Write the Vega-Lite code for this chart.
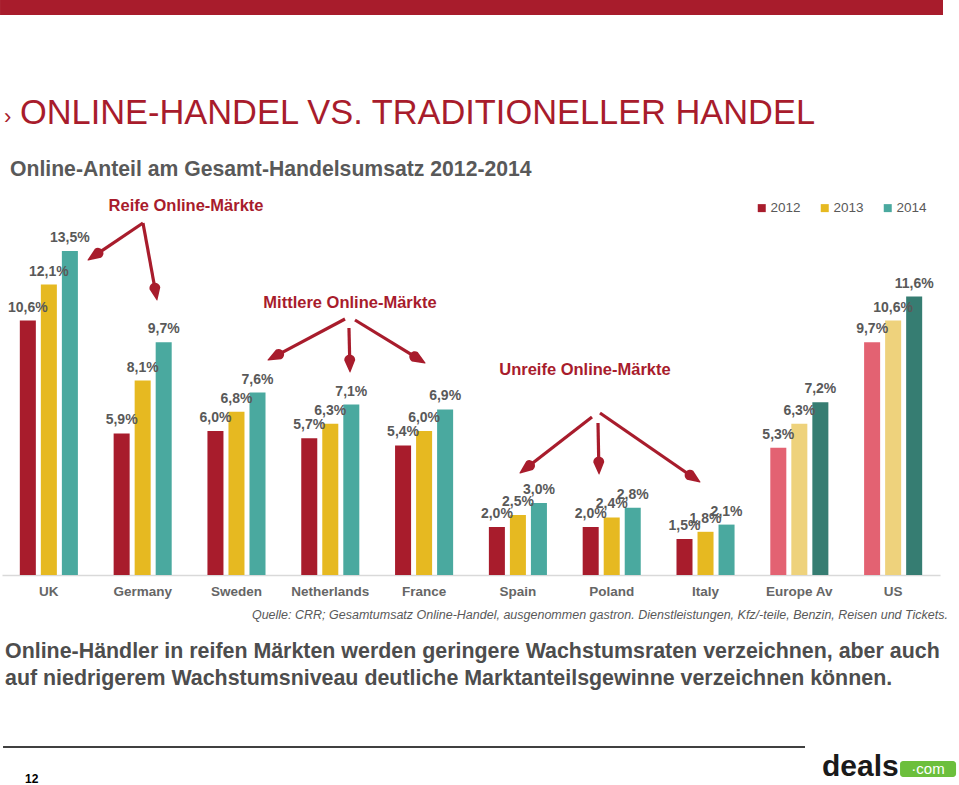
{
  "$schema": "https://vega.github.io/schema/vega-lite/v6.json",
  "width": 938,
  "height": 575,
  "autosize": {"type": "none"},
  "padding": {"left": 2, "top": 0, "right": 19, "bottom": 210},
  "background": "white",
  "config": {
    "font": "Liberation Sans",
    "view": {"stroke": null},
    "locale": {"number": {"decimal": ",", "thousands": ".", "grouping": [3], "currency": ["", " €"]}}
  },
  "layer": [
    {
      "data": {"values": [
        {"country": "UK", "year": "2012", "shade": "2012", "share": 0.106},
        {"country": "UK", "year": "2013", "shade": "2013", "share": 0.121},
        {"country": "UK", "year": "2014", "shade": "2014", "share": 0.135},
        {"country": "Germany", "year": "2012", "shade": "2012", "share": 0.059},
        {"country": "Germany", "year": "2013", "shade": "2013", "share": 0.081},
        {"country": "Germany", "year": "2014", "shade": "2014", "share": 0.097},
        {"country": "Sweden", "year": "2012", "shade": "2012", "share": 0.060},
        {"country": "Sweden", "year": "2013", "shade": "2013", "share": 0.068},
        {"country": "Sweden", "year": "2014", "shade": "2014", "share": 0.076},
        {"country": "Netherlands", "year": "2012", "shade": "2012", "share": 0.057},
        {"country": "Netherlands", "year": "2013", "shade": "2013", "share": 0.063},
        {"country": "Netherlands", "year": "2014", "shade": "2014", "share": 0.071},
        {"country": "France", "year": "2012", "shade": "2012", "share": 0.054},
        {"country": "France", "year": "2013", "shade": "2013", "share": 0.060},
        {"country": "France", "year": "2014", "shade": "2014", "share": 0.069},
        {"country": "Spain", "year": "2012", "shade": "2012", "share": 0.020},
        {"country": "Spain", "year": "2013", "shade": "2013", "share": 0.025},
        {"country": "Spain", "year": "2014", "shade": "2014", "share": 0.030},
        {"country": "Poland", "year": "2012", "shade": "2012", "share": 0.020},
        {"country": "Poland", "year": "2013", "shade": "2013", "share": 0.024},
        {"country": "Poland", "year": "2014", "shade": "2014", "share": 0.028},
        {"country": "Italy", "year": "2012", "shade": "2012", "share": 0.015},
        {"country": "Italy", "year": "2013", "shade": "2013", "share": 0.018},
        {"country": "Italy", "year": "2014", "shade": "2014", "share": 0.021},
        {"country": "Europe Av", "year": "2012", "shade": "2012b", "share": 0.053},
        {"country": "Europe Av", "year": "2013", "shade": "2013b", "share": 0.063},
        {"country": "Europe Av", "year": "2014", "shade": "2014b", "share": 0.072},
        {"country": "US", "year": "2012", "shade": "2012b", "share": 0.097},
        {"country": "US", "year": "2013", "shade": "2013b", "share": 0.106},
        {"country": "US", "year": "2014", "shade": "2014b", "share": 0.116}
      ]},
      "encoding": {
        "x": {
          "field": "country", "type": "nominal", "sort": null,
          "scale": {"paddingInner": 0.381, "paddingOuter": 0.19},
          "axis": {"title": null, "ticks": false, "domainColor": "#d9d9d9", "domainWidth": 1.5, "labelAngle": 0, "labelFontSize": 13.5, "labelFontWeight": "bold", "labelColor": "#666666", "labelPadding": 9}
        },
        "xOffset": {"field": "year", "type": "nominal", "scale": {"paddingInner": 0.238, "paddingOuter": 0}},
        "y": {"field": "share", "type": "quantitative", "scale": {"domain": [0, 0.2395833], "nice": false, "zero": true}, "axis": null}
      },
      "layer": [
        {
          "mark": {"type": "bar"},
          "encoding": {
            "color": {
              "field": "shade", "type": "nominal",
              "scale": {"domain": ["2012", "2013", "2014", "2012b", "2013b", "2014b"], "range": ["#a81c2c", "#e6b921", "#4aa99f", "#e36272", "#eed27c", "#367d72"]},
              "legend": {"orient": "none", "legendX": 753, "legendY": 201, "direction": "horizontal", "title": null, "values": ["2012", "2013", "2014"], "symbolType": "square", "symbolSize": 64, "symbolStrokeWidth": 0, "labelFontSize": 13.5, "labelColor": "#595959", "columnPadding": 17, "labelOffset": 2}
            }
          }
        },
        {
          "mark": {"type": "text", "baseline": "alphabetic", "dy": -9, "fontSize": 14, "fontWeight": "bold", "color": "#595959"},
          "encoding": {"text": {"field": "share", "type": "quantitative", "format": ".1%"}}
        }
      ]
    },
    {
      "encoding": {
        "x": {"field": "x", "type": "quantitative", "scale": {"domain": [0, 10], "nice": false, "zero": false}, "axis": null},
        "y": {"field": "y", "type": "quantitative", "scale": {"domain": [0, 0.2395833], "nice": false, "zero": true}, "axis": null}
      },
      "layer": [
        {
          "data": {"values": [{"x": -0.021, "x2": 10.032, "y": 0.23958, "y2": 0.23333}]},
          "mark": {"type": "rect", "color": "#a81c2c"},
          "encoding": {"x2": {"field": "x2"}, "y2": {"field": "y2"}}
        },
        {
          "data": {"values": [{"x": 0.192, "y": 0.1879, "t": "ONLINE-HANDEL VS. TRADITIONELLER HANDEL"}]},
          "mark": {"type": "text", "align": "left", "baseline": "alphabetic", "fontSize": 34.4, "color": "#a81c2c"},
          "encoding": {"text": {"field": "t"}}
        },
        {
          "data": {"values": [{"x": 0.021, "y": 0.1879, "t": "›"}]},
          "mark": {"type": "text", "align": "left", "baseline": "alphabetic", "fontSize": 22, "color": "#a81c2c"},
          "encoding": {"text": {"field": "t"}}
        },
        {
          "data": {"values": [{"x": 0.085, "y": 0.16625, "t": "Online-Anteil am Gesamt-Handelsumsatz 2012-2014"}]},
          "mark": {"type": "text", "align": "left", "baseline": "alphabetic", "fontSize": 21.2, "fontWeight": "bold", "color": "#595959"},
          "encoding": {"text": {"field": "t"}}
        },
        {
          "data": {"values": [
            {"x": 1.962, "y": 0.15146, "t": "Reife Online-Märkte"},
            {"x": 3.710, "y": 0.11125, "t": "Mittlere Online-Märkte"},
            {"x": 6.215, "y": 0.08333, "t": "Unreife Online-Märkte"}
          ]},
          "mark": {"type": "text", "align": "center", "baseline": "alphabetic", "fontSize": 16.5, "fontWeight": "bold", "color": "#a81c2c"},
          "encoding": {"text": {"field": "t"}}
        },
        {
          "data": {"values": [
            {"x": 1.503, "y": 0.14667, "x2": 1.023, "y2": 0.13404},
            {"x": 1.503, "y": 0.14667, "x2": 1.630, "y2": 0.11950},
            {"x": 3.657, "y": 0.10667, "x2": 2.949, "y2": 0.09192},
            {"x": 3.699, "y": 0.10292, "x2": 3.707, "y2": 0.08958},
            {"x": 3.763, "y": 0.10625, "x2": 4.401, "y2": 0.09096},
            {"x": 6.290, "y": 0.06583, "x2": 5.624, "y2": 0.04558},
            {"x": 6.354, "y": 0.06333, "x2": 6.362, "y2": 0.04708},
            {"x": 6.375, "y": 0.06750, "x2": 7.336, "y2": 0.04158}
          ]},
          "mark": {"type": "rule", "color": "#a81c2c", "strokeWidth": 3.2},
          "encoding": {"x2": {"field": "x2"}, "y2": {"field": "y2"}}
        },
        {
          "data": {"values": [
            {"arrow": "A1", "x": 1.023, "y": 0.13404, "head": 1},
            {"arrow": "A1", "x": 0.917, "y": 0.13125, "head": 0},
            {"arrow": "A2", "x": 1.630, "y": 0.11950, "head": 1},
            {"arrow": "A2", "x": 1.652, "y": 0.11458, "head": 0},
            {"arrow": "B1", "x": 2.949, "y": 0.09192, "head": 1},
            {"arrow": "B1", "x": 2.836, "y": 0.08958, "head": 0},
            {"arrow": "B2", "x": 3.707, "y": 0.08958, "head": 1},
            {"arrow": "B2", "x": 3.710, "y": 0.08458, "head": 0},
            {"arrow": "B3", "x": 4.401, "y": 0.09096, "head": 1},
            {"arrow": "B3", "x": 4.510, "y": 0.08833, "head": 0},
            {"arrow": "C1", "x": 5.624, "y": 0.04558, "head": 1},
            {"arrow": "C1", "x": 5.522, "y": 0.04250, "head": 0},
            {"arrow": "C2", "x": 6.362, "y": 0.04708, "head": 1},
            {"arrow": "C2", "x": 6.365, "y": 0.04208, "head": 0},
            {"arrow": "C3", "x": 7.336, "y": 0.04158, "head": 1},
            {"arrow": "C3", "x": 7.441, "y": 0.03875, "head": 0}
          ]},
          "mark": {"type": "trail", "color": "#a81c2c"},
          "encoding": {
            "detail": {"field": "arrow", "type": "nominal"},
            "size": {"field": "head", "type": "quantitative", "scale": {"domain": [0, 1], "range": [0, 11]}, "legend": null}
          }
        },
        {
          "data": {"values": [{"x": 10.085, "y": -0.01833, "t": "Quelle: CRR; Gesamtumsatz Online-Handel, ausgenommen gastron. Dienstleistungen, Kfz/-teile, Benzin, Reisen und Tickets."}]},
          "mark": {"type": "text", "align": "right", "baseline": "alphabetic", "fontSize": 12.5, "fontStyle": "italic", "color": "#595959"},
          "encoding": {"text": {"field": "t"}}
        },
        {
          "data": {"values": [
            {"x": 0.032, "y": -0.03458, "t": "Online-Händler in reifen Märkten werden geringere Wachstumsraten verzeichnen, aber auch"},
            {"x": 0.032, "y": -0.04583, "t": "auf niedrigerem Wachstumsniveau deutliche Marktanteilsgewinne verzeichnen können."}
          ]},
          "mark": {"type": "text", "align": "left", "baseline": "alphabetic", "fontSize": 21.4, "fontWeight": "bold", "color": "#4d4d4d"},
          "encoding": {"text": {"field": "t"}}
        },
        {
          "data": {"values": [{"x": 0.011, "x2": 8.561, "y": -0.07167}]},
          "mark": {"type": "rule", "color": "#000000", "strokeWidth": 1.5},
          "encoding": {"x2": {"field": "x2"}}
        },
        {
          "data": {"values": [{"x": 0.245, "y": -0.08667, "t": "12"}]},
          "mark": {"type": "text", "align": "left", "baseline": "alphabetic", "fontSize": 12, "fontWeight": "bold", "color": "#000000"},
          "encoding": {"text": {"field": "t"}}
        },
        {
          "data": {"values": [{"x": 8.742, "y": -0.08375, "t": "deals"}]},
          "mark": {"type": "text", "align": "left", "baseline": "alphabetic", "fontSize": 30, "fontWeight": "bold", "font": "Liberation Sans Narrow, Liberation Sans", "color": "#1a1a1a"},
          "encoding": {"text": {"field": "t"}}
        },
        {
          "data": {"values": [{"x": 9.574, "x2": 10.171, "y": -0.0775, "y2": -0.08417}]},
          "mark": {"type": "rect", "color": "#6cbf3c", "cornerRadius": 3},
          "encoding": {"x2": {"field": "x2"}, "y2": {"field": "y2"}}
        },
        {
          "data": {"values": [{"x": 9.872, "y": -0.08292, "t": "·com"}]},
          "mark": {"type": "text", "align": "center", "baseline": "alphabetic", "fontSize": 15, "color": "#ffffff"},
          "encoding": {"text": {"field": "t"}}
        }
      ]
    }
  ],
  "resolve": {"scale": {"x": "independent"}}
}
